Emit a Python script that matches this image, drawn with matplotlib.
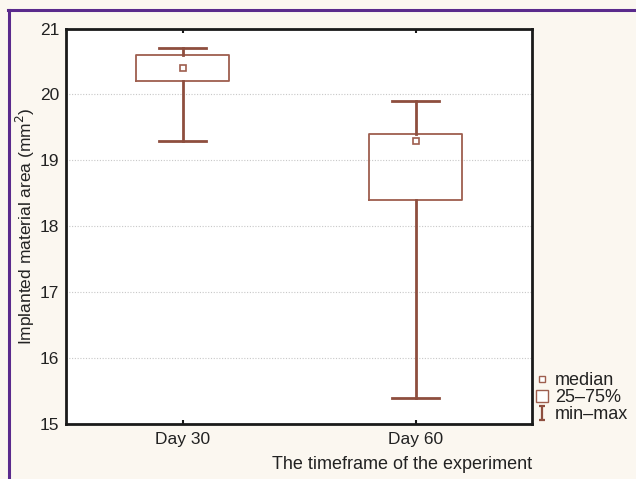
import matplotlib
matplotlib.use("Agg")
import matplotlib.pyplot as plt
from matplotlib.lines import Line2D
from matplotlib.path import Path

plt.rcParams['font.family'] = ['Liberation Sans', 'DejaVu Sans']

# Data
categories = ["Day 30", "Day 60"]
medians = [20.4, 19.3]
q1 = [20.2, 18.4]
q3 = [20.6, 19.4]
mins = [19.3, 15.4]
maxs = [20.7, 19.9]
yticks = [15, 16, 17, 18, 19, 20, 21]

box_color = "#9E5E4E"
whisk_color = "#8E4E3E"
bg = "#FBF7F0"
txt = "#222222"

fig = plt.figure(figsize=(6.36, 4.79), dpi=100, facecolor=bg)
ax = fig.add_axes([66/636, 1-424/479, (532-66)/636, (424-28.5)/479])
ax.set_facecolor("white")

positions = list(range(1, len(categories) + 1))
stats = []
for i, c in enumerate(categories):
    stats.append(dict(label=c, med=medians[i], q1=q1[i], q3=q3[i],
                      whislo=mins[i], whishi=maxs[i], fliers=[]))

ax.bxp(stats, positions=positions, widths=0.4, showfliers=False,
       boxprops=dict(color=box_color, linewidth=1.3),
       whiskerprops=dict(color=whisk_color, linewidth=2.0),
       capprops=dict(color=whisk_color, linewidth=2.0),
       medianprops=dict(visible=False), capwidths=0.2, zorder=3)
ax.plot(positions, medians, ls='none', marker='s', ms=4.3, mfc='white',
        mec=box_color, mew=1.2, zorder=4)

ax.set_xlim(0.5, 2.5)
ax.set_ylim(15, 21)
ax.set_yticks(yticks)
ax.set_xticks(positions)
ax.set_xticklabels(categories)
ax.yaxis.grid(True, linestyle=(0, (1, 1.5)), color="#C8C8C8", linewidth=0.8, zorder=0)
ax.set_axisbelow(True)

for s in ax.spines.values():
    s.set_linewidth(2)
    s.set_color("#1a1a1a")

ax.tick_params(axis='x', direction='in', top=True, bottom=True, length=3,
               width=1.5, labelsize=12.5, pad=6, colors="#1a1a1a", labelcolor=txt)
ax.tick_params(axis='y', length=0, labelsize=12.5, pad=5, labelcolor=txt)

ax.set_ylabel("Implanted material area (mm$^2$)", fontsize=12.5, color=txt, labelpad=2)
ax.set_xlabel("The timeframe of the experiment", fontsize=13, color=txt,
              loc='right', labelpad=6)

# Legend
ibeam = Path([(-0.5, 1), (0.5, 1), (0, 1), (0, -1), (-0.5, -1), (0.5, -1)],
             [Path.MOVETO, Path.LINETO, Path.MOVETO, Path.LINETO, Path.MOVETO, Path.LINETO])
handles = [
    Line2D([], [], ls='none', marker='s', ms=4, mfc='white', mec=box_color, mew=1.0),
    Line2D([], [], ls='none', marker='s', ms=9, mfc='white', mec=box_color, mew=1.0),
    Line2D([], [], ls='none', marker=ibeam, ms=10, mec=whisk_color, mew=1.6),
]
leg = fig.legend(handles, ["median", "25\u201375%", "min\u2013max"],
                 loc='lower left', bbox_to_anchor=(535/636, 1-423/479),
                 frameon=False, fontsize=13, handlelength=0.8, handletextpad=0.3,
                 labelspacing=0.0, borderpad=0, borderaxespad=0)
for t in leg.get_texts():
    t.set_color(txt)

# Purple frame lines
purple = "#5A2A8C"
fig.add_artist(Line2D([8/636, 1], [1-10/479, 1-10/479], color=purple, lw=2.2,
                      transform=fig.transFigure))
fig.add_artist(Line2D([9/636, 9/636], [0, 1-10/479], color=purple, lw=2.2,
                      transform=fig.transFigure))

fig.savefig("out.png", dpi=100, facecolor=bg)
